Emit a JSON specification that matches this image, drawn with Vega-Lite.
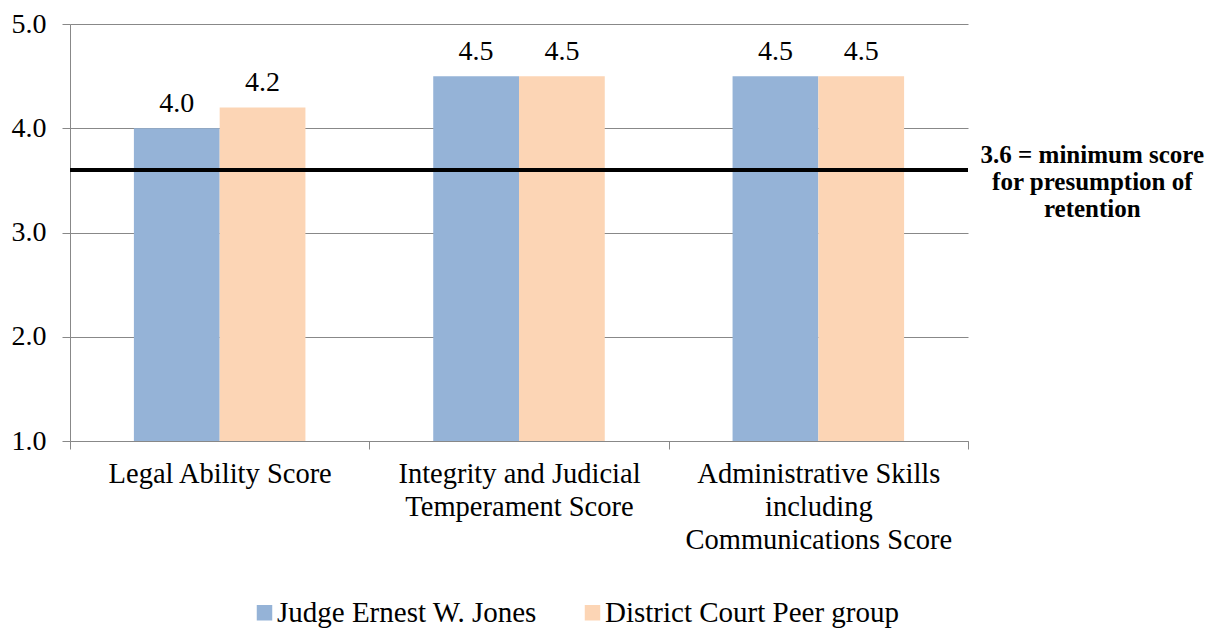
{
  "$schema": "https://vega.github.io/schema/vega-lite/v6.json",
  "width": 898,
  "height": 417,
  "autosize": {"type": "none"},
  "padding": {"left": 70, "top": 24, "right": 247, "bottom": 188},
  "background": "white",
  "config": {
    "font": "Liberation Serif",
    "view": {"stroke": null}
  },
  "data": {
    "values": [
      {"category": "Legal Ability Score", "series": "Judge Ernest W. Jones", "score": 4.0},
      {"category": "Legal Ability Score", "series": "District Court Peer group", "score": 4.2},
      {"category": "Integrity and Judicial|Temperament Score", "series": "Judge Ernest W. Jones", "score": 4.5},
      {"category": "Integrity and Judicial|Temperament Score", "series": "District Court Peer group", "score": 4.5},
      {"category": "Administrative Skills|including|Communications Score", "series": "Judge Ernest W. Jones", "score": 4.5},
      {"category": "Administrative Skills|including|Communications Score", "series": "District Court Peer group", "score": 4.5}
    ]
  },
  "encoding": {
    "x": {
      "field": "category", "type": "nominal", "sort": null,
      "scale": {"paddingInner": 0, "paddingOuter": 0},
      "axis": {
        "title": null, "labelAngle": 0, "labelExpr": "split(datum.label, '|')",
        "labelFontSize": 28.5, "labelColor": "black", "labelFont": "Liberation Serif",
        "labelLineHeight": 33, "labelPadding": 10, "labelLimit": 0,
        "tickBand": "extent", "tickSize": 8, "tickColor": "#888888", "domainColor": "#888888",
        "grid": false
      }
    },
    "y": {
      "field": "score", "type": "quantitative",
      "scale": {"domain": [1, 5], "nice": false, "zero": false},
      "axis": {
        "title": null, "values": [1, 2, 3, 4, 5], "format": ".1f",
        "labelFontSize": 28, "labelColor": "black", "labelFont": "Liberation Serif",
        "labelPadding": 16,
        "tickSize": 8, "tickColor": "#888888", "domainColor": "#888888",
        "grid": true, "gridColor": "#888888"
      }
    }
  },
  "layer": [
    {
      "mark": {"type": "bar"},
      "encoding": {
        "xOffset": {"field": "series", "type": "nominal", "sort": ["Judge Ernest W. Jones", "District Court Peer group"], "scale": {"paddingOuter": 0.745, "paddingInner": 0}},
        "y2": {"datum": 1},
        "color": {
          "field": "series", "type": "nominal",
          "sort": ["Judge Ernest W. Jones", "District Court Peer group"],
          "scale": {"domain": ["Judge Ernest W. Jones", "District Court Peer group"], "range": ["#95B3D7", "#FCD5B5"]},
          "legend": {
            "title": null, "orient": "none", "legendX": 180, "legendY": 574, "direction": "horizontal",
            "symbolType": "square", "symbolSize": 240, "symbolStrokeWidth": 0,
            "labelFontSize": 29, "labelColor": "black", "labelFont": "Liberation Serif", "labelLimit": 0,
            "columnPadding": 41, "symbolOffset": 0, "labelOffset": -2
          }
        }
      }
    },
    {
      "mark": {"type": "text", "baseline": "alphabetic", "dy": -16, "fontSize": 28, "color": "black", "font": "Liberation Serif"},
      "encoding": {
        "xOffset": {"field": "series", "type": "nominal", "sort": ["Judge Ernest W. Jones", "District Court Peer group"], "scale": {"paddingOuter": 0.745, "paddingInner": 0}},
        "text": {"field": "score", "type": "quantitative", "format": ".1f"}
      }
    },
    {
      "mark": {"type": "rule", "color": "black", "strokeWidth": 4},
      "encoding": {"y": {"datum": 3.6}, "x": null}
    },
    {
      "data": {"values": [{"category": "Administrative Skills|including|Communications Score", "label": ["3.6 = minimum score", "for  presumption of", "retention"], "score": 3.6}]},
      "mark": {"type": "text", "fontSize": 25, "fontWeight": "bold", "color": "black", "font": "Liberation Serif", "align": "center", "baseline": "middle", "dx": 274, "dy": -15, "lineHeight": 27},
      "encoding": {"text": {"field": "label"}}
    }
  ]
}
